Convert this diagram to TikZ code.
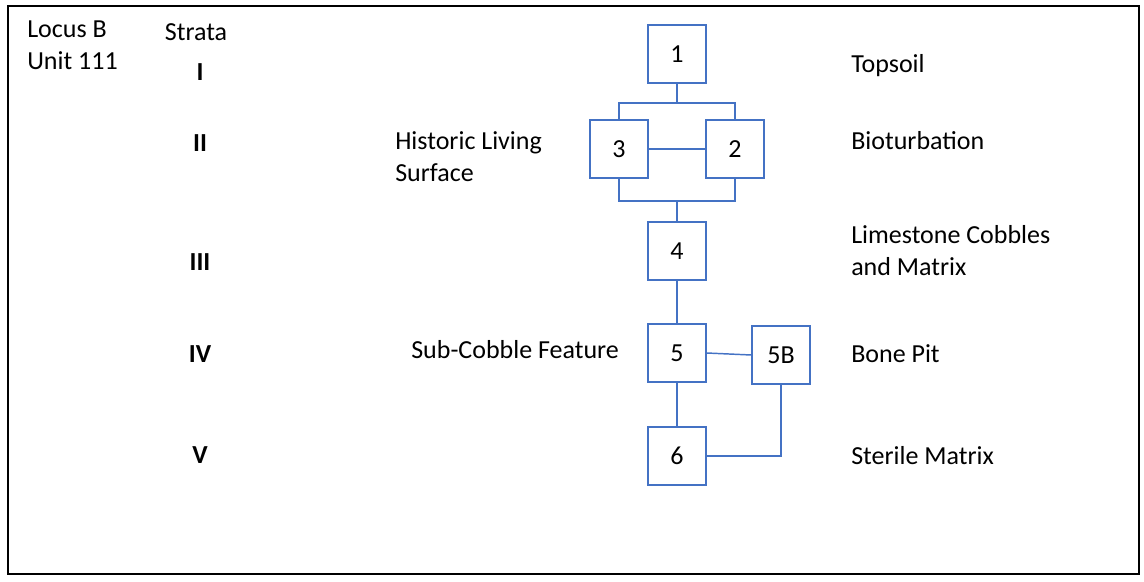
\documentclass[tikz,border=0pt]{standalone}
\usepackage{fontspec}
\setmainfont{Carlito}
\definecolor{boxblue}{RGB}{68,114,196}
\begin{document}
\begin{tikzpicture}[x=0.75pt,y=-0.75pt,
  box/.style={draw=boxblue,line width=1.1pt,minimum width=43.5pt,minimum height=43.5pt,inner sep=0pt,font=\fontsize{19.5}{24}\selectfont},
  conn/.style={draw=boxblue,line width=1.1pt},
  lbl/.style={anchor=west,inner sep=0pt,font=\fontsize{19.5}{24}\selectfont,align=left},
  roman/.style={inner sep=0pt,font=\fontsize{19.5}{24}\selectfont\bfseries}]
\useasboundingbox (0,0) rectangle (1144,581);
\draw[line width=1.5pt] (8,6) rectangle (1139,574);
% boxes
\node[box] (b1) at (677,54) {1};
\node[box] (b3) at (619,149) {3};
\node[box] (b2) at (735,149) {2};
\node[box] (b4) at (677,251) {4};
\node[box] (b5) at (677,353) {5};
\node[box] (b5b) at (781,355) {5B};
\node[box] (b6) at (677,456) {6};
\coordinate (top) at (677,103);
\coordinate (bot) at (677,201);
% connectors
\draw[conn] (b1.south) -- (top);
\draw[conn] (b3.north) |- (top) -| (b2.north);
\draw[conn] (b3.east) -- (b2.west);
\draw[conn] (b3.south) |- (bot) -| (b2.south);
\draw[conn] (bot) -- (b4.north);
\draw[conn] (b4.south) -- (b5.north);
\draw[conn] (b5.south) -- (b6.north);
\draw[conn] (b5.east) -- (b5b.west);
\draw[conn] (b5b.south) |- (b6.east);
% header texts
\node[lbl] (locus) at (27,29) {Locus B};
\node[lbl] (unit) at (27,61) {Unit 111};
\node[inner sep=0pt,font=\fontsize{19.5}{24}\selectfont] (strata) at (196,32) {Strata};
% roman numerals
\node[roman] (r1) at (200,72) {I};
\node[roman] (r2) at (200,143) {II};
\node[roman] (r3) at (200,262) {III};
\node[roman] (r4) at (200,354) {IV};
\node[roman] (r5) at (200,455) {V};
% right labels
\node[lbl] (topsoil) at (851,66) {Topsoil};
\node[lbl] (biot) at (851,141) {Bioturbation};
\node[lbl] (lime) at (851,251) {Limestone Cobbles\\and Matrix};
\node[lbl] (bone) at (851,354) {Bone Pit};
\node[lbl] (sterile) at (851,456) {Sterile Matrix};
% left labels
\node[lbl] (hist) at (395,157) {Historic Living\\Surface};
\node[lbl] (sub) at (411,350) {Sub-Cobble Feature};
\end{tikzpicture}
\end{document}
